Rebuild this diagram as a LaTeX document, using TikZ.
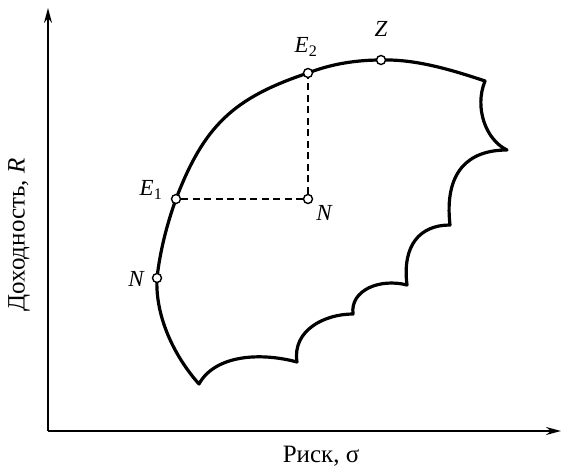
\documentclass[tikz,border=0pt]{standalone}
\usepackage{fontspec}
\setmainfont{Liberation Serif}
\usetikzlibrary{arrows.meta}
\begin{document}
\begin{tikzpicture}[x=1pt,y=-1pt,
  dot/.style={circle,draw,fill=white,inner sep=0pt,minimum size=9pt,line width=1.4pt},
  lbl/.style={font=\fontsize{23}{27}\selectfont\itshape,inner sep=0pt},
  axlbl/.style={font=\fontsize{25}{29}\selectfont,inner sep=0pt},
  axis/.style={line width=1.8pt,-{Stealth[length=15pt,width=8pt]}},
  frontier/.style={line width=3.2pt,line join=round},
  guide/.style={line width=1.3pt,dash pattern=on 7pt off 4.5pt}]
\useasboundingbox (0,0) rectangle (566,469);
\coordinate (O) at (48,431);
\coordinate (Ytip) at (48,8);
\coordinate (Xtip) at (561,431);
\coordinate (C0) at (199,384);
\coordinate (C1) at (297,362);
\coordinate (C2) at (353,314);
\coordinate (C3) at (407,285);
\coordinate (C4) at (450,225);
\coordinate (C5) at (507,150);
\coordinate (C6) at (485,81);
\draw[axis] (O) -- (Ytip);
\draw[axis] (O) -- (Xtip);
\draw[frontier] (C0)
  .. controls (174,356) and (155,316) .. (157,278)
  .. controls (160,251) and (167,224) .. (176,199)
  .. controls (204,126) and (233,98) .. (308,73)
  .. controls (331,64) and (356,60) .. (381,60)
  .. controls (416,59) and (452,70) .. (C6)
  .. controls (474,108) and (486,140) .. (C5)
  .. controls (468,150) and (444,172) .. (C4)
  .. controls (420,225) and (402,245) .. (C3)
  .. controls (380,278) and (350,290) .. (C2)
  .. controls (325,314) and (292,330) .. (C1)
  .. controls (260,352) and (215,355) .. (C0) -- cycle;
\node[dot] (E2) at (308,73) {};
\node[dot] (Z) at (381,60) {};
\node[dot] (E1) at (176,199) {};
\node[dot] (Nm) at (308,199) {};
\node[dot] (Nl) at (157,278) {};
\draw[guide] (E1) -- (Nm) -- (E2);
\node[lbl] (lE2) at (306,47) {E\textsubscript{\upshape 2}};
\node[lbl] (lZ) at (381,29) {Z};
\node[lbl] (lE1) at (151,190) {E\textsubscript{\upshape 1}};
\node[lbl] (lNm) at (324,213) {N};
\node[lbl] (lNl) at (136,279) {N};
\node[axlbl] (lx) at (321,456) {Риск, σ};
\node[axlbl,rotate=90] (ly) at (19,235) {Доходность, \textit{R}};
\end{tikzpicture}
\end{document}
